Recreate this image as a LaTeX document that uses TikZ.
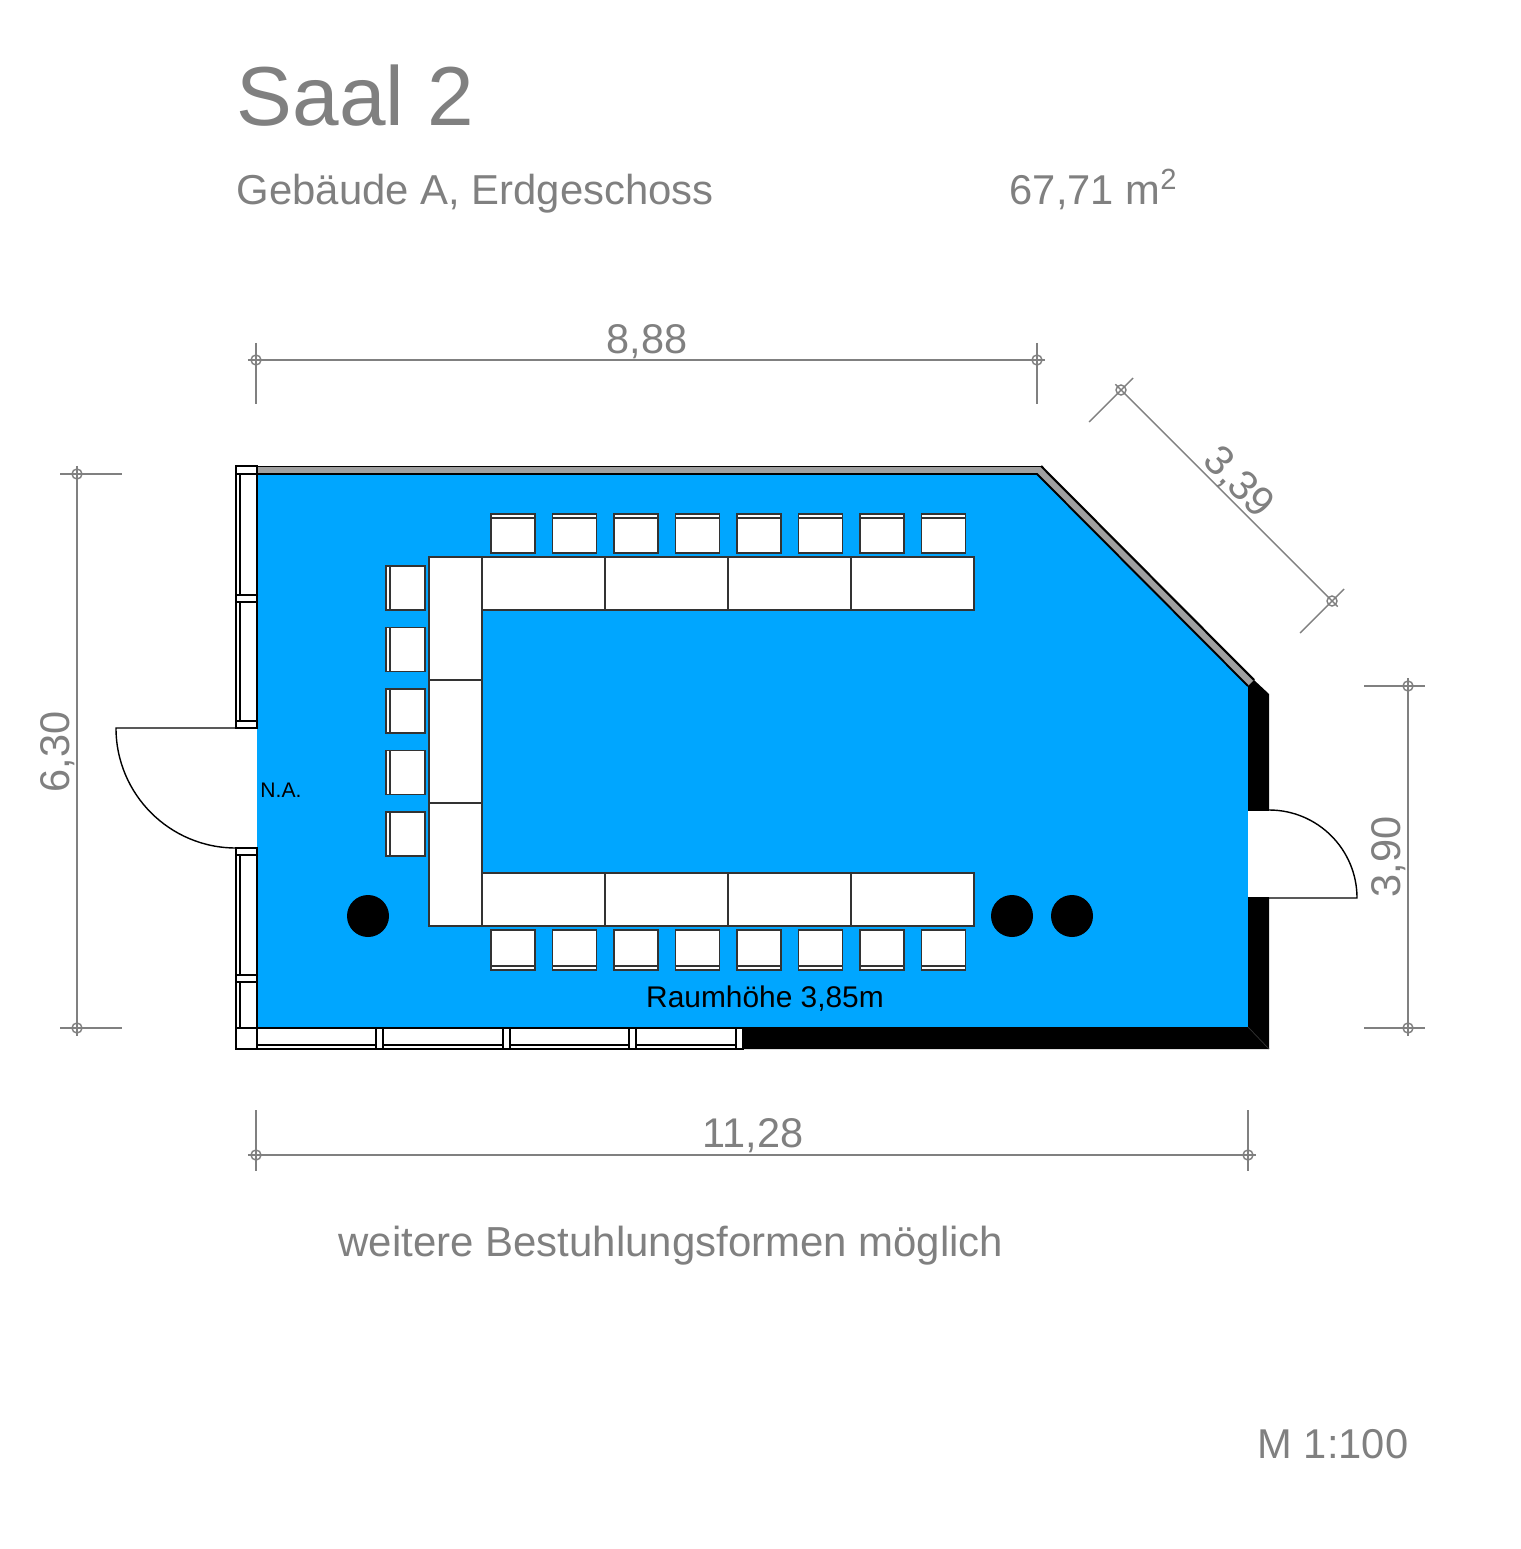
\documentclass[tikz,border=0pt]{standalone}
\usepackage{fontspec}
\setmainfont{Liberation Sans}
\definecolor{roomblue}{HTML}{00A6FF}
\definecolor{dimgray}{HTML}{808080}
\definecolor{wallgray}{HTML}{A0A0A0}
\tikzset{
    planline/.style={draw=black,line width=0.75pt},
    seat/.style={draw=black!80,fill=white,line width=0.35pt},
    dimline/.style={draw=dimgray,line width=0.4pt},
    dimmark/.style={circle,draw=dimgray,line width=0.4pt,minimum size=0.1cm,inner sep=0pt},
    dimtext/.style={text=dimgray,font=\fontsize{11.8pt}{14pt}\selectfont,inner sep=0pt},
    graytext/.style={text=dimgray,inner sep=0pt,anchor=base west},
}
\begin{document}
\begin{tikzpicture}[x=0.01cm,y=-0.01cm]
    \useasboundingbox[fill=white] (0,0) rectangle (1520,1549);
    % Room floor
    \fill[roomblue] (257,474) -- (1037,474) -- (1248,686) -- (1248,1027) -- (257,1027) -- cycle;
    % Diagonal and top wall
    \fill[wallgray] (257,466) -- (1041,466) -- (1254,680) -- (1248,686) -- (1037,474) -- (257,474) -- cycle;
    \draw[line width=0.25pt] (257,466) -- (1041,466);
    \draw[line width=0.6pt] (1041,466) -- (1254,680);
    \draw[line width=0.55pt] (257,474) -- (1037,474) -- (1248,686);
    % Solid walls
    \fill[black] (1248,686) -- (1254,680) -- (1269,694) -- (1269,1049) -- (743,1049) -- (743,1027) -- (1248,1027) -- cycle;
    \draw[black!80,line width=0.2pt] (1248,1027) -- (1269,1049);
    % Right door
    \fill[white] (1248,810) rectangle (1270,898);
    \draw[line width=0.4pt,fill=white] (1269,810) arc[start angle=-90,end angle=0,radius=88] -- (1269,898);
    \draw[line width=0.4pt] (1248,810) -- (1269,810);
    \draw[line width=0.4pt] (1248,898) -- (1269,898);
    % Left door
    \draw[line width=0.4pt,fill=white] (235,728) -- (116,728) arc[start angle=180,end angle=90,radius=120];
    % Left windows
    \foreach \a/\b in {466/474,595/602,721/728,848/855,975/982} {
        \draw[planline,fill=white] (236,\a) rectangle (257,\b);
    }
    \foreach \a/\b in {474/595,602/721,855/975,982/1028} {
        \draw[planline,fill=white] (236,\a) rectangle (257,\b);
        \draw[planline] (240,\a) -- (240,\b);
    }
    % Bottom windows
    \draw[planline,fill=white] (236,1028) rectangle (257,1049);
    \foreach \a/\b in {257/376,383/503,510/629,636/736} {
        \draw[planline,fill=white] (\a,1028) rectangle (\b,1049);
        \draw[planline] (\a,1045) -- (\b,1045);
    }
    \foreach \a/\b in {376/383,503/510,629/636,736/743} {
        \draw[planline,fill=white] (\a,1028) rectangle (\b,1049);
    }
    % Tables
    \foreach \y in {557,680,803} {
        \draw[seat] (429,\y) rectangle +(53,123);
    }
    \foreach \x in {482,605,728,851} {
        \draw[seat] (\x,557) rectangle +(123,53);
        \draw[seat] (\x,873) rectangle +(123,53);
    }
    % Chairs
    \foreach \x in {491,552.5,...,922} {
        \draw[seat] (\x,514) rectangle +(44,39);
        \draw[seat] (\x,518) -- +(44,0);
        \draw[seat] (\x,930) rectangle +(44,40);
        \draw[seat] (\x,966) -- +(44,0);
    }
    \foreach \y in {566,627.5,...,813} {
        \draw[seat] (386,\y) rectangle +(39,44);
        \draw[seat] (390,\y) -- +(0,44);
    }
    % Pillars
    \foreach \x in {368,1012,1072} {
        \fill[black] (\x,916) circle[radius=21];
    }
    % Dimension marks
    \node[dimmark] (topa) at (256,360) {};
    \node[dimmark] (topb) at (1037,360) {};
    \node[dimmark] (lefta) at (77,474) {};
    \node[dimmark] (leftb) at (77,1028) {};
    \node[dimmark] (righta) at (1408,686) {};
    \node[dimmark] (rightb) at (1408,1028) {};
    \node[dimmark] (bota) at (256,1155) {};
    \node[dimmark] (botb) at (1248,1155) {};
    \node[dimmark] (diaga) at (1121,390) {};
    \node[dimmark] (diagb) at (1332,601) {};
    % Dimension lines
    \foreach \a/\b in {topa/topb,lefta/leftb,righta/rightb,bota/botb,diaga/diagb} {
        \draw[dimline,shorten <=-0.08cm,shorten >=-0.08cm] (\a.center) -- (\b.center);
    }
    % Extension lines
    \draw[dimline] (256,343) -- (256,404);
    \draw[dimline] (1037,343) -- (1037,404);
    \draw[dimline] (60,474) -- (122,474);
    \draw[dimline] (60,1028) -- (122,1028);
    \draw[dimline] (1364,686) -- (1425,686);
    \draw[dimline] (1364,1028) -- (1425,1028);
    \draw[dimline] (256,1110) -- (256,1171);
    \draw[dimline] (1248,1110) -- (1248,1171);
    \draw[dimline] (1089,422) -- (1133,378);
    \draw[dimline] (1300,633) -- (1344,589);
    % Dimension texts
    \node[dimtext] (dimtop) at (647,342) {8,88};
    \node[dimtext] (dimbot) at (753,1136) {11,28};
    \node[dimtext,rotate=90] (dimleft) at (58,752) {6,30};
    \node[dimtext,rotate=90] (dimright) at (1389,857) {3,90};
    \node[dimtext,rotate=-45] (dimdiag) at (1238,483) {3,39};
    % Texts
    \node[graytext,font=\fontsize{23.8pt}{28pt}\selectfont] (title) at (236,126) {Saal 2};
    \node[graytext,font=\fontsize{11.9pt}{14pt}\selectfont] (building) at (236,205) {Gebäude A, Erdgeschoss};
    \node[graytext,font=\fontsize{11.85pt}{14pt}\selectfont] (area) at (1009,205) {67,71 m\textsuperscript{2}};
    \node[graytext,font=\fontsize{11.93pt}{14pt}\selectfont] (note) at (338,1256) {weitere Bestuhlungsformen möglich};
    \node[graytext,font=\fontsize{11.85pt}{14pt}\selectfont] (scale) at (1257,1458) {M 1:100};
    \node[inner sep=0pt,font=\fontsize{8.5pt}{10pt}\selectfont] (height) at (765,999) {Raumhöhe 3,85m};
    \node[inner sep=0pt,font=\fontsize{6pt}{7pt}\selectfont] (na) at (281,790) {N.A.};
\end{tikzpicture}
\end{document}
